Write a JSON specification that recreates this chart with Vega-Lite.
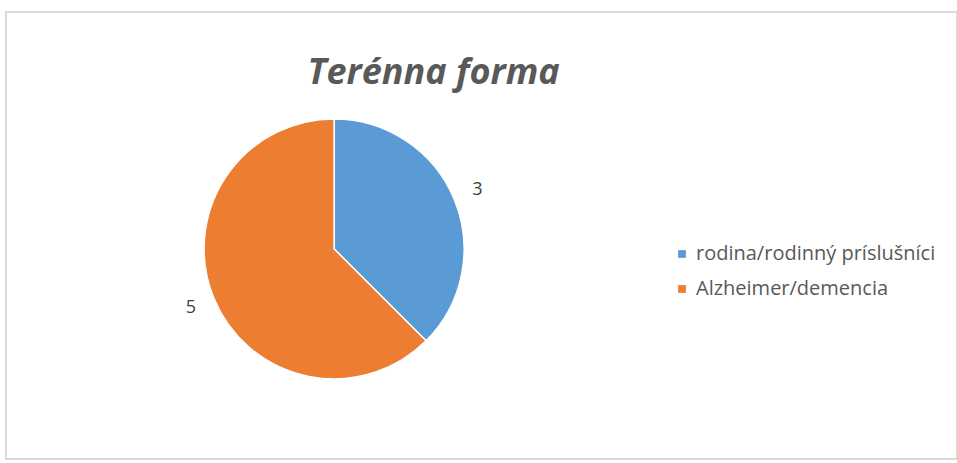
{
  "$schema": "https://vega.github.io/schema/vega-lite/v6.json",
  "autosize": {"type": "fit", "contains": "padding"},
  "width": 957,
  "height": 463,
  "padding": {"left": 6, "top": 12, "right": 0, "bottom": 4},
  "background": "white",
  "view": {"stroke": "#d9d9d9", "strokeWidth": 2, "fill": "white"},
  "title": {
    "text": "Terénna forma",
    "font": "Open Sans",
    "fontSize": 36,
    "fontWeight": "bold",
    "fontStyle": "italic",
    "color": "#595959",
    "anchor": "middle",
    "offset": -80,
    "dx": -48
  },
  "data": {
    "values": [
      {"kategoria": "rodina/rodinný príslušníci", "pocet": 3, "poradie": 1},
      {"kategoria": "Alzheimer/demencia", "pocet": 5, "poradie": 2}
    ]
  },
  "encoding": {
    "theta": {"field": "pocet", "type": "quantitative", "stack": true},
    "order": {"field": "poradie", "type": "ordinal"},
    "color": {
      "field": "kategoria",
      "type": "nominal",
      "scale": {
        "domain": ["rodina/rodinný príslušníci", "Alzheimer/demencia"],
        "range": ["#5B9BD5", "#ED7D31"]
      },
      "legend": {
        "title": null,
        "orient": "none",
        "legendX": 666,
        "legendY": 232,
        "symbolType": "square",
        "symbolSize": 60,
        "symbolStrokeWidth": 0,
        "labelFont": "Open Sans",
        "labelFontSize": 20,
        "labelColor": "#595959",
        "rowPadding": 15,
        "labelLimit": 400
      }
    }
  },
  "layer": [
    {
      "mark": {
        "type": "arc",
        "outerRadius": 130,
        "stroke": "white",
        "strokeWidth": 1.5,
        "x": {"expr": "width * 0.345"},
        "y": {"expr": "height * 0.53"}
      }
    },
    {
      "mark": {
        "type": "text",
        "radius": 155,
        "font": "Open Sans",
        "fontSize": 18,
        "x": {"expr": "width * 0.345"},
        "y": {"expr": "height * 0.53"}
      },
      "encoding": {
        "text": {"field": "pocet", "type": "quantitative"},
        "color": {"value": "#404040"}
      }
    }
  ]
}
